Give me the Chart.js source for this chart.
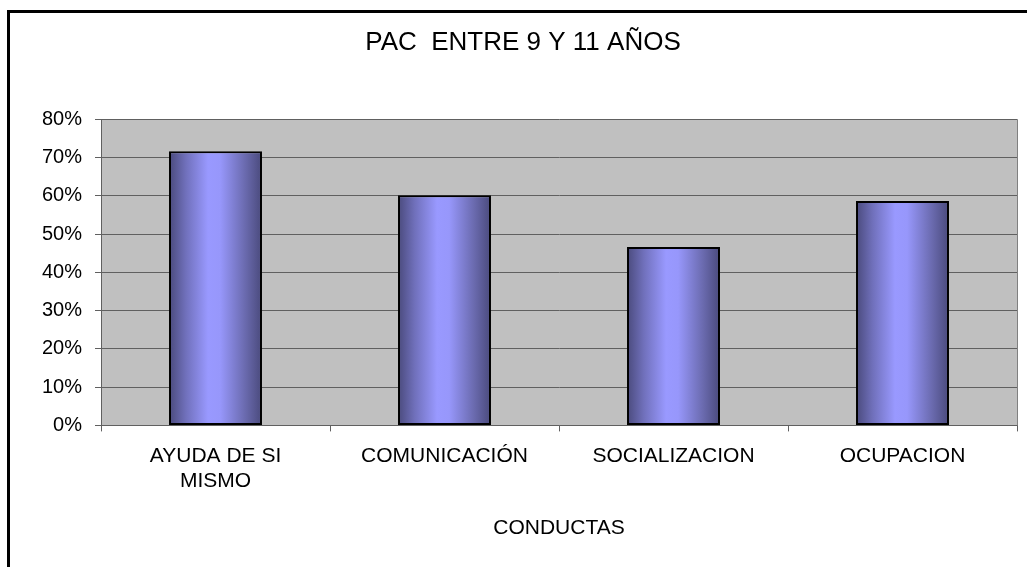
<!DOCTYPE html>
<html lang="es">
<head>
    <meta charset="UTF-8">
    <title>PAC entre 9 y 11 años</title>
    <script src="https://cdn.jsdelivr.net/npm/chart.js"></script>
    <style>
        body {
            margin: 0;
            background: #ffffff;
        }
        canvas {
            display: block;
        }
    </style>
</head>
<body>
    <canvas id="pacChart" width="1027" height="567"></canvas>
    <script>
        // data
        const categories = [["AYUDA DE SI", "MISMO"], "COMUNICACIÓN", "SOCIALIZACION", "OCUPACION"];
        const values = [0.716, 0.601, 0.466, 0.586];
        const yTicks = [0, 0.1, 0.2, 0.3, 0.4, 0.5, 0.6, 0.7, 0.8];

        const BAR_PCT = 0.406;
        const FONT = "'Liberation Sans', Arial, sans-serif";

        // horizontal shading of each bar, dark edges and light middle
        function barFill(ctx) {
            const chart = ctx.chart;
            const xs = chart.scales.x;
            if (!chart.chartArea || !xs) return '#9999ff';
            const cx = xs.getPixelForValue(ctx.dataIndex);
            const half = (xs.width / categories.length) * BAR_PCT / 2;
            const g = chart.ctx.createLinearGradient(cx - half, 0, cx + half, 0);
            g.addColorStop(0, '#4a4a7c');
            g.addColorStop(0.18, '#7070bb');
            g.addColorStop(0.42, '#9999ff');
            g.addColorStop(0.55, '#9797fb');
            g.addColorStop(0.82, '#6a6aae');
            g.addColorStop(1, '#4a4a7c');
            return g;
        }

        // grey plot area, outer frame of the chart
        const framePlugin = {
            id: 'frame',
            beforeDraw(chart) {
                const { ctx, chartArea: a } = chart;
                ctx.save();
                ctx.fillStyle = '#c0c0c0';
                ctx.fillRect(a.left, a.top, a.right - a.left, a.bottom - a.top);
                ctx.strokeStyle = '#000000';
                ctx.lineWidth = 3;
                ctx.strokeRect(8.5, 11.5, chart.width + 20, chart.height + 20);
                ctx.restore();
            },
            afterDatasetsDraw(chart) {
                const { ctx, chartArea: a } = chart;
                ctx.save();
                ctx.strokeStyle = '#808080';
                ctx.lineWidth = 1;
                ctx.beginPath();
                ctx.moveTo(Math.round(a.right) + 0.5, a.top);
                ctx.lineTo(Math.round(a.right) + 0.5, a.bottom);
                ctx.stroke();
                ctx.restore();
            }
        };

        const ctx = document.getElementById('pacChart').getContext('2d');
        new Chart(ctx, {
            type: 'bar',
            data: {
                labels: categories,
                datasets: [{
                    data: values,
                    backgroundColor: barFill,
                    borderColor: '#000000',
                    borderWidth: 2,
                    borderSkipped: false,
                    categoryPercentage: 1,
                    barPercentage: BAR_PCT
                }]
            },
            options: {
                responsive: false,
                animation: false,
                layout: {
                    padding: { left: 29, right: 10, top: 0, bottom: 22 }
                },
                plugins: {
                    legend: { display: false },
                    tooltip: { enabled: false },
                    title: {
                        display: true,
                        text: 'PAC  ENTRE 9 Y 11 AÑOS',
                        color: '#000000',
                        font: { family: FONT, size: 26, weight: 'normal' },
                        padding: { top: 27, bottom: 61 }
                    }
                },
                scales: {
                    x: {
                        grid: {
                            display: true,
                            drawOnChartArea: false,
                            drawTicks: true,
                            tickLength: 6,
                            color: '#606060'
                        },
                        border: { color: '#606060' },
                        ticks: {
                            color: '#000000',
                            padding: 12,
                            maxRotation: 0,
                            font: { family: FONT, size: 21 }
                        },
                        title: {
                            display: true,
                            text: 'CONDUCTAS',
                            color: '#000000',
                            font: { family: FONT, size: 21 },
                            padding: { top: 10, bottom: 4 }
                        }
                    },
                    y: {
                        min: 0,
                        max: 0.8,
                        afterFit(scale) { scale.width = 72; },
                        afterBuildTicks(scale) {
                            scale.ticks = yTicks.map(v => ({ value: v }));
                        },
                        grid: {
                            color: '#606060',
                            tickLength: 6
                        },
                        border: { color: '#606060' },
                        ticks: {
                            color: '#000000',
                            padding: 13,
                            font: { family: FONT, size: 20 },
                            callback: v => Math.round(v * 100) + '%'
                        }
                    }
                }
            },
            plugins: [framePlugin]
        });
    </script>
</body>
</html>
